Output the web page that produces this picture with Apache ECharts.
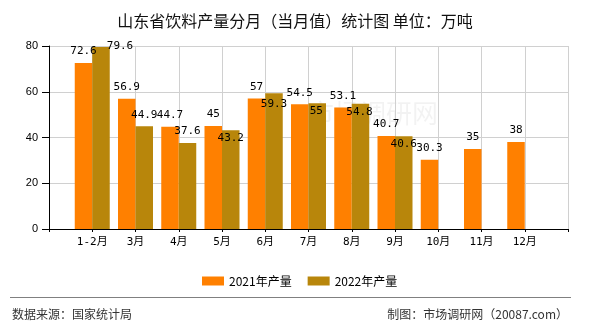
<!DOCTYPE html>
<html>
<head>
<meta charset="utf-8">
<script src="https://cdn.jsdelivr.net/npm/echarts@6/dist/echarts.min.js"></script>
<style>
  html, body { margin: 0; padding: 0; background: #fff; }
  #chart { width: 590px; height: 330px; }
</style>
</head>
<body>
<div id="chart"></div>
<script>
// Monthly beverage output, Shandong (10k tonnes)
const months = ['1-2月', '3月', '4月', '5月', '6月', '7月', '8月', '9月', '10月', '11月', '12月'];
const output2021 = [72.6, 56.9, 44.7, 45, 57, 54.5, 53.1, 40.7, 30.3, 35, 38];
const output2022 = [79.6, 44.9, 37.6, 43.2, 59.3, 55, 54.8, 40.6, null, null, null];
const seriesNames = ['2021年产量', '2022年产量'];
const yTicks = [0, 20, 40, 60, 80];

const COLOR_2021 = '#FF8000';
const COLOR_2022 = '#B8860B';
const LABEL_FONT = "'DejaVu Sans Mono', 'Noto Sans CJK SC', monospace";
const CJK_FONT = "'Noto Sans CJK SC', 'Noto Sans', sans-serif";

// The axis has an empty slot before the first and after the last month.
const axisCats = [''].concat(months, ['']);
const pad = arr => [null].concat(arr, [null]);

// Nudge 2022 labels that would collide with the neighbouring 2021 labels.
const shift2022 = { 0: [19, 11], 3: [0, 19], 4: [0, 22], 5: [-1, 19], 6: [-1, 20], 7: [0, 20] };

function buildData(values, shifts) {
  return pad(values).map((v, i) => {
    const s = shifts && shifts[i - 1];
    if (v == null || !s) return v;
    return { value: v, label: { offset: s } };
  });
}

const labelStyle = {
  show: true,
  position: 'top',
  distance: 6,
  color: '#000',
  fontSize: 11,
  fontFamily: LABEL_FONT
};

const chart = echarts.init(document.getElementById('chart'), null, { renderer: 'canvas' });
chart.setOption({
  animation: false,
  backgroundColor: '#fff',
  title: {
    text: '山东省饮料产量分月（当月值）统计图 单位：万吨',
    left: 'center',
    top: 8,
    textStyle: { fontSize: 16, fontWeight: 'normal', color: '#111', fontFamily: CJK_FONT }
  },
  legend: {
    data: seriesNames,
    left: 197,
    top: 270,
    itemWidth: 22,
    itemHeight: 9,
    itemGap: 16,
    icon: 'rect',
    textStyle: { fontSize: 12, color: '#000', fontFamily: CJK_FONT, padding: [0, 0, 0, 0] }
  },
  grid: { left: 49, right: 22, top: 46, bottom: 101, containLabel: false },
  xAxis: {
    type: 'category',
    data: axisCats,
    boundaryGap: false,
    axisLine: { lineStyle: { color: '#000', width: 1 } },
    axisTick: { show: true, length: 3, interval: 0, lineStyle: { color: '#000' } },
    axisLabel: { interval: 0, color: '#000', fontSize: 11, margin: 8, fontFamily: LABEL_FONT },
    splitLine: { show: true, interval: 0, lineStyle: { color: '#d0d0d0', width: 1 } }
  },
  yAxis: {
    type: 'value',
    min: yTicks[0],
    max: yTicks[yTicks.length - 1],
    interval: yTicks[1] - yTicks[0],
    axisLine: { show: true, lineStyle: { color: '#000', width: 1 } },
    axisTick: { show: true, length: 7, lineStyle: { color: '#000' } },
    axisLabel: { color: '#000', fontSize: 11, margin: 11, fontFamily: "'Liberation Sans', Arial, sans-serif" },
    splitLine: { show: true, lineStyle: { color: '#d0d0d0', width: 1 } }
  },
  series: [
    {
      name: seriesNames[0],
      type: 'bar',
      data: buildData(output2021),
      barWidth: 17.5,
      barGap: '0%',
      itemStyle: { color: COLOR_2021 },
      label: labelStyle
    },
    {
      name: seriesNames[1],
      type: 'bar',
      data: buildData(output2022, shift2022),
      barWidth: 17.5,
      barGap: '0%',
      itemStyle: { color: COLOR_2022 },
      label: labelStyle
    }
  ],
  graphic: [
    {
      type: 'text',
      left: 308,
      top: 100,
      silent: true,
      z: -1,
      style: { text: '市场调研网', fill: 'rgba(0,0,0,0.05)', fontSize: 26, fontFamily: CJK_FONT }
    },
    {
      type: 'line',
      shape: { x1: 10, y1: 297.5, x2: 571, y2: 297.5 },
      style: { stroke: '#808080', lineWidth: 1.2 }
    },
    {
      type: 'text',
      left: 12,
      top: 308,
      style: { text: '数据来源：国家统计局', fill: '#333', fontSize: 12, fontFamily: CJK_FONT }
    },
    {
      type: 'text',
      right: 22,
      top: 308,
      style: { text: '制图：市场调研网（20087.com）', fill: '#333', fontSize: 12, fontFamily: CJK_FONT }
    }
  ]
});
</script>
</body>
</html>
